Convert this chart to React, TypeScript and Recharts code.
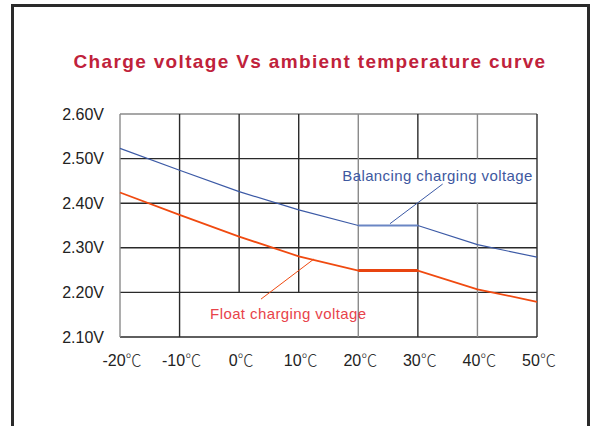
import { LineChart, Line, XAxis, YAxis, ReferenceLine, ReferenceDot } from "recharts";

const temps = [-20, -10, 0, 10, 20, 30, 40, 50];
const balancing = [2.523, 2.474, 2.426, 2.385, 2.35, 2.35, 2.307, 2.279];
const floating = [2.424, 2.374, 2.325, 2.281, 2.249, 2.249, 2.207, 2.179];
const yTicks = [2.1, 2.2, 2.3, 2.4, 2.5, 2.6];

// grid pieces: [x1, y1, x2, y2, gray?] - the source leaves some cells open for the labels
const gridSegs: [number, number, number, number, boolean][] = [
    [-20, 2.6, 50, 2.6, true],
    [-20, 2.5, 50, 2.5, false],
    [-20, 2.4, 50, 2.4, false],
    [-20, 2.3, 50, 2.3, false],
    [-20, 2.2, 50, 2.2, false],
    [-20, 2.1, 50, 2.1, false],
    [-20, 2.1, -20, 2.6, true],
    [-10, 2.1, -10, 2.6, false],
    [0, 2.2, 0, 2.6, false],
    [10, 2.2, 10, 2.6, false],
    [20, 2.1, 20, 2.6, true],
    [30, 2.1, 30, 2.4, false],
    [30, 2.5, 30, 2.6, false],
    [40, 2.1, 40, 2.4, true],
    [40, 2.5, 40, 2.6, true],
    [50, 2.1, 50, 2.6, false],
];

const notes = [
    { text: "Balancing charging voltage", x: 33.3, y: 2.463, from: [34.17, 2.443], to: [25.32, 2.354], color: "#3e58a0", lineColor: "#3c5aa6" },
    { text: "Float charging voltage", x: 8.25, y: 2.153, from: [3.67, 2.185], to: [12.57, 2.275], color: "#e8434a", lineColor: "#f04a10" },
];

const data = temps.map((t, i) => ({
    t,
    bal: balancing[i],
    flt: floating[i],
    fltFlat: t === 20 || t === 30 ? floating[i] : null,
    balFlat: t === 20 || t === 30 ? balancing[i] : null,
}));

const font = "'Liberation Sans', Arial, sans-serif";

function TempTick(p: any) {
    return (
        <text x={p.x + 2} y={p.y + 28.5} textAnchor="middle" fill="#222" fontFamily={font} fontSize={16}>
            <tspan>{p.payload.value}</tspan>
            <tspan fontFamily="'Noto Sans CJK SC', sans-serif" fontWeight={300} fill="#333">℃</tspan>
        </text>
    );
}

export default function App() {
    return (
        <div style={{ position: "absolute", left: 0, top: 0, width: 591, height: 426, background: "#fff", overflow: "hidden" }}>
            <div style={{ position: "absolute", left: 11, top: 4, width: 573, height: 440, border: "3px solid #2a2a2a" }} />
            <div style={{ position: "absolute", left: 0, top: 51, width: 620, textAlign: "center", fontFamily: font, fontWeight: "bold", fontSize: 19, color: "#c0223b", letterSpacing: 1.35, whiteSpace: "nowrap" }}>
                Charge voltage Vs ambient temperature curve
            </div>
            <div style={{ position: "absolute", left: 0, top: 0 }}>
                <LineChart width={591} height={426} data={data} margin={{ top: 114, right: 54, bottom: 49, left: 60 }}>
                    <XAxis dataKey="t" type="number" domain={[-20, 50]} ticks={temps} axisLine={false} tickLine={false} tickSize={0} tickMargin={0} height={40}
                        tick={<TempTick />} />
                    <YAxis domain={[2.1, 2.6]} ticks={yTicks} axisLine={false} tickLine={false} tickSize={0} tickMargin={16} width={60}
                        tick={{ fontSize: 16, fill: "#222", fontFamily: font }} tickFormatter={(v) => `${v.toFixed(2)}V`} />
                    {gridSegs.map((s, i) => (
                        <ReferenceLine key={i} segment={[{ x: s[0], y: s[1] }, { x: s[2], y: s[3] }]} stroke={s[4] ? "#8a8a8a" : "#2a2a2a"} strokeWidth={1.4} ifOverflow="visible" />
                    ))}
                    {notes.map((n, i) => (
                        <ReferenceLine key={"p" + i} segment={[{ x: n.from[0], y: n.from[1] }, { x: n.to[0], y: n.to[1] }]} stroke={n.lineColor} strokeWidth={1} ifOverflow="visible" />
                    ))}
                    <Line dataKey="bal" stroke="#3c5aa6" strokeWidth={1.2} dot={false} isAnimationActive={false} />
                    <Line dataKey="balFlat" stroke="#6a86c4" strokeWidth={2} dot={false} isAnimationActive={false} />
                    <Line dataKey="flt" stroke="#f04a10" strokeWidth={1.8} dot={false} isAnimationActive={false} />
                    <Line dataKey="fltFlat" stroke="#e84410" strokeWidth={3} dot={false} isAnimationActive={false} />
                    {notes.map((n, i) => (
                        <ReferenceDot key={"n" + i} x={n.x} y={n.y} r={0} stroke="none" ifOverflow="visible"
                            label={(p: any) => (
                                <text x={p.viewBox.x} y={p.viewBox.y} textAnchor="middle" dominantBaseline="central" fill={n.color}
                                    fontFamily={font} fontSize={15} letterSpacing={0.4}>{n.text}</text>
                            )} />
                    ))}
                </LineChart>
            </div>
        </div>
    );
}
